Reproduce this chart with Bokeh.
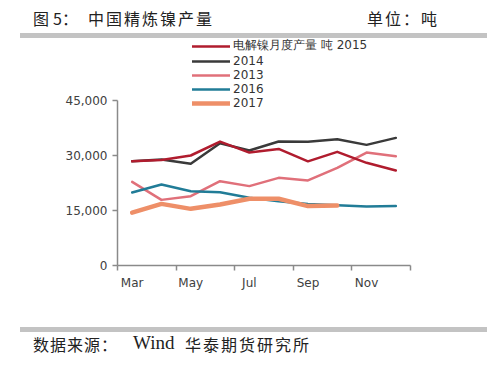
from bokeh.plotting import figure
from bokeh.models import (FixedTicker, Legend, LegendItem, NumeralTickFormatter,
                          Range1d, Div)
from bokeh.layouts import column
from bokeh.embed import file_html
from bokeh.resources import INLINE

months = ["Mar", "Apr", "May", "Jun", "Jul", "Aug", "Sep", "Oct", "Nov", "Dec"]
y2015 = [28400, 28800, 30000, 33800, 30800, 31800, 28400, 31000, 28000, 25900]
y2014 = [28450, 28900, 27750, 33350, 31350, 33800, 33750, 34450, 32900, 34800]
y2013 = [22800, 17900, 18900, 23000, 21650, 23900, 23200, 26650, 30800, 29800]
y2016 = [19900, 22100, 20250, 20000, 18450, 17550, 16800, 16450, 16100, 16200]
y2017 = [14400, 16800, 15450, 16650, 18200, 18200, 16200, 16350]
y_ticks = [0, 15000, 30000, 45000]
y_max = 45000

x_all = list(range(len(months)))

W = 500
CJK = "'Noto Sans CJK SC'"
SPAN = "position:absolute;font-size:16px;line-height:24px;white-space:nowrap;"

header = Div(width=W, height=38, margin=0, text=f"""
<div style="position:relative;width:{W}px;height:38px;font-family:{CJK};color:#222;">
  <span style="{SPAN}left:33px;top:6px;">图</span>
  <span style="{SPAN}left:53px;top:6px;">5：</span>
  <span style="{SPAN}left:88px;top:6px;letter-spacing:2px;">中国精炼镍产量</span>
  <span style="{SPAN}left:367px;top:6px;letter-spacing:2px;">单位：吨</span>
  <div style="position:absolute;left:20px;top:33px;width:467px;height:5px;background:#c3c3c3;"></div>
</div>""")

# frame spans from y=38 to y=265 on the page; 45,000 sits 165px above 0
frame_h = 227
p = figure(width=W, height=284, output_backend="svg", toolbar_location=None,
           x_range=Range1d(-0.5, len(months) - 0.5),
           y_range=Range1d(0, y_max * frame_h / 165),
           min_border_left=117, min_border_right=90, min_border_top=0,
           min_border_bottom=57, margin=0)
p.outline_line_color = None
p.xgrid.visible = False
p.ygrid.visible = False
p.background_fill_color = "white"
p.border_fill_color = "white"

axis_col = "#8a8a8a"
p.xaxis.ticker = FixedTicker(ticks=x_all[::2],
                             minor_ticks=[i - 0.5 for i in range(0, len(months) + 1, 2)])
p.xaxis.major_label_overrides = {i: months[i] for i in x_all[::2]}
p.xaxis.major_tick_out = 0
p.xaxis.major_tick_in = 0
p.xaxis.minor_tick_out = 5
p.xaxis.minor_tick_in = 0
p.xaxis.minor_tick_line_color = axis_col
p.xaxis.minor_tick_line_width = 1.5
p.xaxis.major_label_standoff = 5
p.yaxis.ticker = FixedTicker(ticks=y_ticks)
p.yaxis.formatter = NumeralTickFormatter(format="0,0")
p.yaxis.bounds = (0, y_max)
p.yaxis.major_tick_out = 5
p.yaxis.major_tick_in = 0
p.yaxis.minor_tick_line_color = None
p.yaxis.major_label_standoff = 5
for ax in (p.xaxis, p.yaxis):
    ax.axis_line_color = axis_col
    ax.axis_line_width = 1.5
    ax.major_tick_line_color = axis_col
    ax.major_tick_line_width = 1.5
    ax.major_label_text_font = "DejaVu Sans"
    ax.major_label_text_font_size = "12px"
    ax.major_label_text_color = "#404040"

series = [
    ("电解镍月度产量 吨 2015", y2015, "#B01C2E", 2.5),
    ("2014", y2014, "#3A3A3A", 2.5),
    ("2013", y2013, "#E0707A", 2.5),
    ("2016", y2016, "#217C97", 2.5),
    ("2017", y2017, "#EE8F68", 4.5),
]
renderers = {}
for name in ["2013", "2016", "2014", "电解镍月度产量 吨 2015", "2017"]:
    lab, ys, col, w = next(s for s in series if s[0] == name)
    renderers[name] = p.line(x_all[:len(ys)], ys, line_color=col, line_width=w,
                             line_join="round", line_cap="round")

legend = Legend(items=[LegendItem(label=s[0], renderers=[renderers[s[0]]]) for s in series],
                location=(75, 155), orientation="vertical",
                glyph_width=38, glyph_height=12, label_height=12, spacing=-3,
                padding=0, margin=0, label_standoff=3,
                label_text_font="DejaVu Sans", label_text_font_size="12px",
                label_text_color="#333333",
                border_line_alpha=0, background_fill_alpha=0)
p.add_layout(legend)

footer = Div(width=W, height=47, margin=0, text=f"""
<div style="position:relative;width:{W}px;height:47px;font-family:{CJK};color:#222;">
  <div style="position:absolute;left:20px;top:5px;width:467px;height:5px;background:#c3c3c3;"></div>
  <span style="{SPAN}left:33px;top:10px;letter-spacing:1px;">数据来源：</span>
  <span style="{SPAN}left:133px;top:9px;font-size:19px;font-family:'Liberation Serif';">Wind</span>
  <span style="{SPAN}left:185px;top:10px;letter-spacing:2px;">华泰期货研究所</span>
</div>""")

layout = column(header, p, footer, spacing=0)
open("out.html", "w").write(file_html(layout, INLINE))
